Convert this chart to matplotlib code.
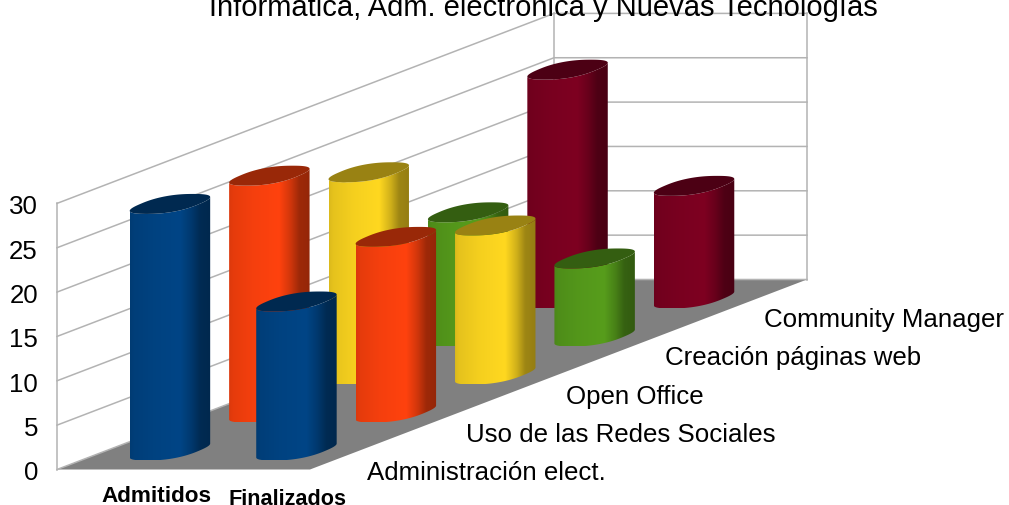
import numpy as np
import matplotlib
matplotlib.use('Agg')
import matplotlib.pyplot as plt
from matplotlib.colors import to_rgb
from matplotlib.patches import Polygon

plt.rcParams['font.family'] = ['Liberation Sans', 'DejaVu Sans']

title = 'Informática, Adm. electrónica y Nuevas Tecnologías'
categories = ['Administración elect.', 'Uso de las Redes Sociales', 'Open Office',
              'Creación páginas web', 'Community Manager']
series_names = ['Admitidos', 'Finalizados']
admitidos = [27.8, 26.7, 22.8, 14, 25.8]
finalizados = [16.8, 19.8, 16.8, 8.8, 12.7]
colors = ['#004586', '#ff420e', '#ffd820', '#579d1c', '#7e0021']
y_ticks = [0, 5, 10, 15, 20, 25, 30]

# geometria de la caja 3D, en pixeles de la imagen
x0, y0 = 57, 470.5
series_dx = 126.5
depth_dx, depth_dy = 99.4, 38.0
unit_y = 8.87
bar_frac = 0.5

fig = plt.figure(figsize=(10.09, 5.06), dpi=100)
ax = fig.add_axes([0, 0, 1, 1])
ax.axis('off')


# (serie, categoria, valor) -> punto en pantalla
def project(s, c, v):
    return x0 + s * series_dx + c * depth_dx, y0 - c * depth_dy - v * unit_y


n_s = len(series_names)
n_c = len(categories)
v_max = y_ticks[-1]

# suelo
ax.add_patch(Polygon([project(0, 0, 0), project(n_s, 0, 0), project(n_s, n_c, 0), project(0, n_c, 0)],
                     facecolor='#808080', edgecolor='none', zorder=1))

# paredes y rejilla
grid = dict(color='#b3b3b3', lw=1.1, zorder=2)
for v in y_ticks:
    p = [project(0, 0, v), project(0, n_c, v), project(n_s, n_c, v)]
    ax.plot([q[0] for q in p], [q[1] for q in p], **grid)
for s, c in [(0, 0), (0, n_c), (n_s, n_c)]:
    p = [project(s, c, 0), project(s, c, v_max)]
    ax.plot([q[0] for q in p], [q[1] for q in p], **grid)

# sombreado horizontal de los cilindros
shade_pos = [0, 0.05, 0.3, 0.62, 0.76, 0.87, 1]
shade_val = [0.86, 0.9, 0.96, 1.0, 0.82, 0.62, 0.58]


def cylinder(s, c, value, color, z):
    base = np.array(to_rgb(color))
    a = series_dx * bar_frac / 2
    bx = depth_dx * bar_frac / 2
    by = depth_dy * bar_frac / 2 * 1.05
    cx, cy0 = project(s + 0.5, c + 0.5, 0)
    _, cy1 = project(s + 0.5, c + 0.5, value)

    # elipse algo mas llena que la real, como en el original
    t = np.linspace(0, 2 * np.pi, 361)[:-1]
    u = np.sign(np.cos(t)) * np.abs(np.cos(t)) ** 0.8
    w = np.sign(np.sin(t)) * np.abs(np.sin(t)) ** 0.8
    ex = a * u + bx * w
    ey = -by * w
    ex = ex * np.hypot(a, bx) / ex.max()
    half = ex.max()

    # cuerpo: arco inferior en la base y en la tapa
    i_r = np.argmax(ex)
    i_l = np.argmin(ex)
    lx = np.r_[ex[i_l:], ex[:i_r + 1]]
    ly = np.r_[ey[i_l:], ey[:i_r + 1]]
    body = np.column_stack([np.r_[cx + lx, cx + lx[::-1]],
                            np.r_[cy0 + ly, cy1 + ly[::-1]]])
    clip = Polygon(body, closed=True, facecolor='none', edgecolor='none', transform=ax.transData)
    ax.add_patch(clip)
    xs = np.linspace(0, 1, 200)
    row = np.interp(xs, shade_pos, shade_val)[None, :, None] * base[None, None, :]
    im = ax.imshow(row, extent=[cx - half, cx + half, cy0 + by, cy1 - by], aspect='auto',
                   interpolation='bilinear', zorder=z)
    im.set_clip_path(clip)
    # tapa
    ax.fill(cx + ex, cy1 + ey, color=base * 0.6, lw=0, zorder=z + 0.5)


z = 3
for c in range(n_c - 1, -1, -1):
    cylinder(0, c, admitidos[c], colors[c], z)
    z += 1
    cylinder(1, c, finalizados[c], colors[c], z)
    z += 1

ax.set_xlim(0, 1009)
ax.set_ylim(506, 0)

# textos
for v in y_ticks:
    x, y = project(0, 0, v)
    ax.text(x - 19, y + 10, str(v), ha='right', va='baseline', fontsize=18.6, color='black', zorder=50)
for c, name in enumerate(categories):
    x, y = project(n_s, c + 0.5, 0)
    ax.text(x + 7, y + 29 - 0.4 * c, name, ha='left', va='baseline', fontsize=18.6, color='black', zorder=50)
ax.text(156, 502.5, series_names[0], ha='center', va='baseline', fontsize=16.2, fontweight='bold', zorder=50)
ax.text(287, 505, series_names[1], ha='center', va='baseline', fontsize=15.6, fontweight='bold', zorder=50)
ax.text(543, 16, title, ha='center', va='baseline', fontsize=21, color='black', zorder=50)

fig.savefig('out.png', dpi=100, facecolor='white')
